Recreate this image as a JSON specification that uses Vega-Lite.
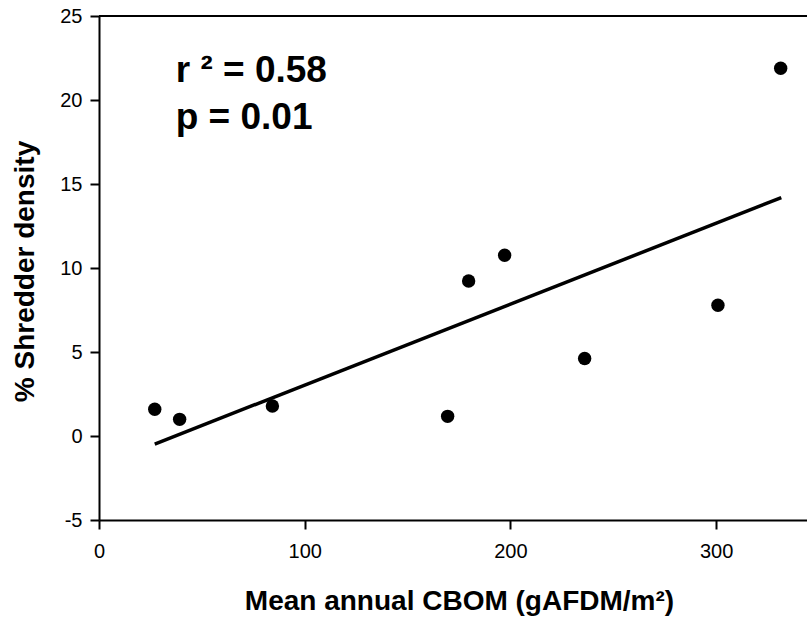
{
  "$schema": "https://vega.github.io/schema/vega-lite/v6.json",
  "width": 708,
  "height": 504,
  "autosize": {"type": "none"},
  "padding": {"left": 99, "top": 16, "right": 0, "bottom": 98},
  "background": "white",
  "config": {
    "view": {"stroke": null},
    "font": "Liberation Sans",
    "axis": {
      "domainColor": "black",
      "domainWidth": 2,
      "tickColor": "black",
      "tickWidth": 2,
      "tickSize": 9,
      "labelColor": "black",
      "labelFont": "Liberation Sans",
      "labelFontSize": 20,
      "titleColor": "black",
      "titleFont": "Liberation Sans",
      "titleFontSize": 28,
      "titleFontWeight": "bold",
      "grid": false
    }
  },
  "datasets": {
    "points": [
      {"cbom": 27.1, "pct": 1.59},
      {"cbom": 39.2, "pct": 0.99},
      {"cbom": 84.3, "pct": 1.79},
      {"cbom": 169.5, "pct": 1.17},
      {"cbom": 179.7, "pct": 9.23},
      {"cbom": 197.2, "pct": 10.76},
      {"cbom": 236.1, "pct": 4.61},
      {"cbom": 300.9, "pct": 7.78},
      {"cbom": 331.4, "pct": 21.89}
    ],
    "fit": [
      {"cbom": 27.1, "pct": -0.48},
      {"cbom": 331.7, "pct": 14.19}
    ],
    "frame": [
      {"pct": 25}
    ],
    "notes": [
      {"cbom": 37.3, "pct": 21.05, "label": "r ² = 0.58"},
      {"cbom": 37.3, "pct": 18.3, "label": "p = 0.01"}
    ]
  },
  "layer": [
    {
      "data": {"name": "fit"},
      "mark": {"type": "line", "color": "black", "strokeWidth": 3.5},
      "encoding": {
        "x": {
          "field": "cbom",
          "type": "quantitative",
          "scale": {"domain": [0, 344.2], "nice": false, "zero": false},
          "axis": {
            "values": [0, 100, 200, 300],
            "labelFlush": false,
            "labelPadding": 12,
            "title": "Mean annual CBOM (gAFDM/m²)",
            "titlePadding": 26,
            "titleX": 360
          }
        },
        "y": {
          "field": "pct",
          "type": "quantitative",
          "scale": {"domain": [-5, 25], "nice": false, "zero": false},
          "axis": {
            "values": [-5, 0, 5, 10, 15, 20, 25],
            "labelExpr": "'' + datum.value",
            "labelPadding": 8,
            "title": "% Shredder density",
            "titlePadding": 20,
            "titleY": 255
          }
        }
      }
    },
    {
      "data": {"name": "frame"},
      "mark": {"type": "rule", "color": "black", "strokeWidth": 2},
      "encoding": {
        "y": {"field": "pct", "type": "quantitative"}
      }
    },
    {
      "data": {"name": "points"},
      "mark": {"type": "circle", "color": "black", "opacity": 1, "size": 180},
      "encoding": {
        "x": {"field": "cbom", "type": "quantitative"},
        "y": {"field": "pct", "type": "quantitative"}
      }
    },
    {
      "data": {"name": "notes"},
      "mark": {"type": "text", "fontSize": 37, "fontWeight": "bold", "font": "Liberation Sans", "align": "left", "baseline": "alphabetic", "color": "black"},
      "encoding": {
        "x": {"field": "cbom", "type": "quantitative"},
        "y": {"field": "pct", "type": "quantitative"},
        "text": {"field": "label"}
      }
    }
  ]
}
